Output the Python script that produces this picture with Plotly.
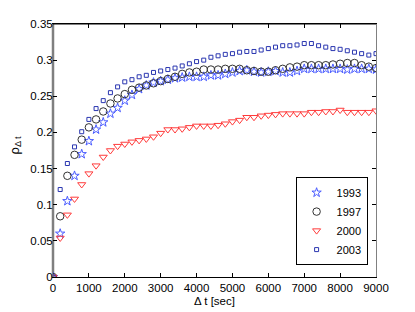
import plotly.graph_objects as go

dt = list(range(0, 9001, 200))

rho_1993 = [0, 0.060, 0.105, 0.140, 0.170, 0.188, 0.204, 0.214, 0.226, 0.234,
            0.244, 0.252, 0.260, 0.265, 0.269, 0.271, 0.273, 0.275, 0.276, 0.277,
            0.277, 0.277, 0.279, 0.279, 0.281, 0.283, 0.285, 0.286, 0.284, 0.283,
            0.284, 0.285, 0.283, 0.283, 0.285, 0.288, 0.288, 0.288, 0.288, 0.288,
            0.288, 0.287, 0.288, 0.288, 0.288, 0.287]

rho_1997 = [0, 0.084, 0.140, 0.169, 0.190, 0.207, 0.218, 0.229, 0.240, 0.247,
            0.253, 0.259, 0.262, 0.265, 0.268, 0.271, 0.274, 0.277, 0.281, 0.283,
            0.284, 0.287, 0.287, 0.287, 0.288, 0.288, 0.288, 0.286, 0.285, 0.284,
            0.284, 0.286, 0.288, 0.290, 0.291, 0.293, 0.293, 0.293, 0.293, 0.294,
            0.295, 0.296, 0.296, 0.293, 0.291, 0.289]

rho_2000 = [0, 0.054, 0.086, 0.108, 0.128, 0.143, 0.154, 0.166, 0.175, 0.181,
            0.184, 0.187, 0.189, 0.191, 0.194, 0.199, 0.204, 0.204, 0.205, 0.207,
            0.209, 0.209, 0.209, 0.210, 0.212, 0.215, 0.217, 0.221, 0.221, 0.223,
            0.224, 0.225, 0.226, 0.226, 0.226, 0.226, 0.228, 0.228, 0.229, 0.229,
            0.231, 0.228, 0.228, 0.228, 0.228, 0.230]

rho_2003 = [0, 0.121, 0.157, 0.180, 0.201, 0.218, 0.233, 0.244, 0.255, 0.263,
            0.270, 0.273, 0.277, 0.279, 0.283, 0.285, 0.287, 0.289, 0.292, 0.295,
            0.298, 0.300, 0.304, 0.306, 0.308, 0.309, 0.311, 0.312, 0.312, 0.314,
            0.316, 0.318, 0.320, 0.320, 0.321, 0.323, 0.323, 0.320, 0.318, 0.316,
            0.315, 0.313, 0.311, 0.309, 0.307, 0.309]

x_ticks = [0, 1000, 2000, 3000, 4000, 5000, 6000, 7000, 8000, 9000]
y_ticks = [0, 0.05, 0.1, 0.15, 0.2, 0.25, 0.3, 0.35]
y_tick_labels = ["0", "0.05", "0.1", "0.15", "0.2", "0.25", "0.3", "0.35"]

series = [
    ("1993", rho_1993, "star-open", 7, "#4a5cff"),
    ("1997", rho_1997, "circle-open", 7.5, "#333333"),
    ("2000", rho_2000, "triangle-down-open", 7, "#ff3b3b"),
    ("2003", rho_2003, "square-open", 4, "#2a36b0"),
]

fig = go.Figure()
for name, vals, sym, sz, col in series:
    fig.add_trace(go.Scatter(
        x=dt, y=vals, mode="markers", name=name,
        marker=dict(symbol=sym, size=sz, color=col, line=dict(width=1, color=col)),
    ))

font = "Liberation Sans, Arial, Helvetica, sans-serif"
fig.update_layout(
    width=415, height=312,
    margin=dict(l=45, r=47, t=16, b=43),
    paper_bgcolor="white", plot_bgcolor="white",
    font=dict(family=font, size=11, color="black"),
    showlegend=True,
    legend=dict(
        x=0.974, y=0.047, xanchor="right", yanchor="bottom",
        bordercolor="black", borderwidth=1, bgcolor="white",
        font=dict(size=11), itemwidth=30,
    ),
    xaxis=dict(
        range=[0, 9000], tickvals=x_ticks, ticktext=[str(v) for v in x_ticks],
        tickfont=dict(size=11.5),
        ticks="inside", ticklen=4, tickcolor="black", mirror="allticks",
        showline=True, linecolor="black", linewidth=1, showgrid=False, zeroline=False,
        automargin=False,
        title=dict(text="\u0394 t [sec]", standoff=4, font=dict(size=11.5)),
    ),
    yaxis=dict(
        range=[0, 0.35], tickvals=y_ticks, ticktext=y_tick_labels,
        tickfont=dict(size=11.5), ticklabelstandoff=-3,
        ticks="inside", ticklen=4, tickcolor="black", mirror="allticks",
        showline=True, linecolor="#808080", linewidth=1, showgrid=False, zeroline=False,
        automargin=False,
    ),
)
fig.add_annotation(
    text="\u03c1<sub>\u0394 t</sub>", textangle=-90, showarrow=False,
    xref="paper", yref="paper", x=0, y=0.5, xanchor="center", yanchor="middle",
    xshift=-38, yshift=5, font=dict(size=13, family=font, color="black"),
)
fig.add_shape(type="line", xref="paper", yref="paper", x0=0, x1=0, y0=0, y1=1,
              line=dict(color="#7f7f7f", width=2.5), layer="below")
fig.add_shape(type="line", xref="paper", yref="paper", x0=0, x1=1, y0=1, y1=1,
              line=dict(color="black", width=1), layer="above")

fig.write_html("out.html")
